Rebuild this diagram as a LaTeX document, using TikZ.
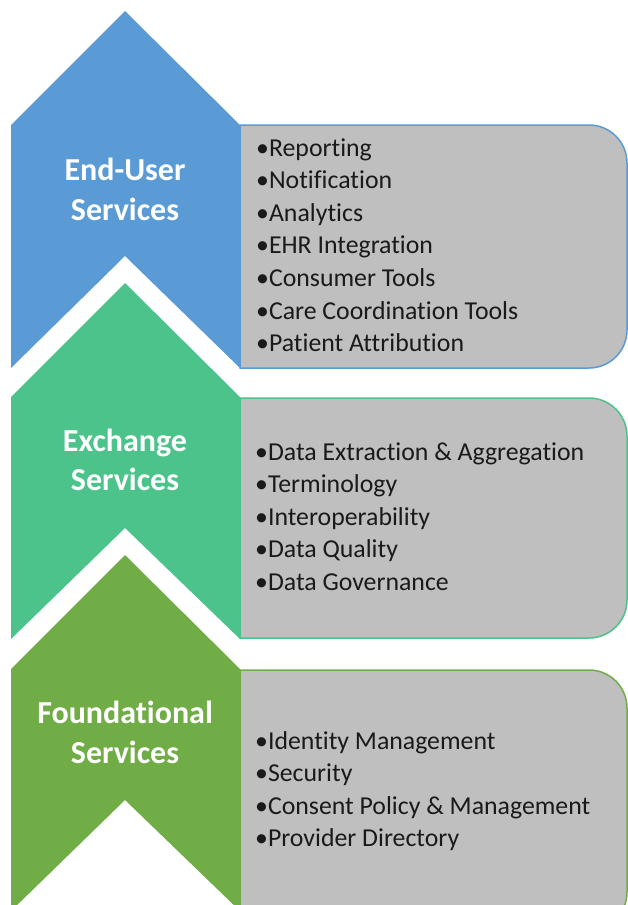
\documentclass[tikz,border=0pt]{standalone}
\usepackage{fontspec}
\setmainfont{Carlito}[Ligatures=NoCommon]
\definecolor{cblue}{HTML}{5B9BD5}
\definecolor{cteal}{HTML}{4CC38A}
\definecolor{cgreen}{HTML}{70AD47}
\definecolor{cgray}{HTML}{BFBFBF}
\definecolor{ctext}{HTML}{1A1A1A}
\tikzset{
  listitem/.style={anchor=base west, inner sep=0pt, text=ctext, font=\fontsize{25.8}{30}\selectfont},
  title/.style={anchor=base, inner sep=0pt, text=white, font=\fontsize{32}{38}\selectfont\bfseries},
  panel/.style={fill=cgray, line width=1.5pt}
}
\begin{document}
\begin{tikzpicture}[x=1pt,y=-1pt]
\useasboundingbox (0,0) rectangle (628,905);
\begin{scope}
\clip (0,0) rectangle (628,905);
% panels
\path[panel, draw=cblue] (240,125) -- (400,125) [rounded corners=38] -- (627,125) -- (627,368) -- (400,368) [sharp corners] -- (240,368) -- cycle;
\path[panel, draw=cteal] (240,398) -- (400,398) [rounded corners=38] -- (627,398) -- (627,638) -- (400,638) [sharp corners] -- (240,638) -- cycle;
\path[panel, draw=cgreen] (240,670) -- (400,670) [rounded corners=38] -- (627,670) -- (627,930) -- (400,930) [sharp corners] -- (240,930) -- cycle;
% chevrons
\fill[cblue] (11,125) -- (125,11) -- (240,125) -- (240,368) -- (125,256) -- (11,368) -- cycle;
\fill[cteal] (11,397) -- (125,283) -- (240,397) -- (240,639) -- (125,528) -- (11,639) -- cycle;
\fill[cgreen] (11,669) -- (125,555) -- (240,669) -- (240,911) -- (125,800) -- (11,911) -- cycle;
\end{scope}
% titles
\node[title] (t1a) at (125,180) {End-User};
\node[title] (t1b) at (125,220) {Services};
\node[title] (t2a) at (125,451) {Exchange};
\node[title] (t2b) at (125,490) {Services};
\node[title] (t3a) at (125,723) {Foundational};
\node[title] (t3b) at (125,763) {Services};
% lists
\node[listitem] (a1) at (256,156) {•Reporting};
\node[listitem] (a2) at (256,188.6) {•Notification};
\node[listitem] (a3) at (256,221.2) {•Analytics};
\node[listitem] (a4) at (256,253.8) {•EHR Integration};
\node[listitem] (a5) at (256,286.4) {•Consumer Tools};
\node[listitem] (a6) at (256,319) {•Care Coordination Tools};
\node[listitem] (a7) at (256,351.6) {•Patient Attribution};
\node[listitem] (b1) at (255,460) {•Data Extraction \& Aggregation};
\node[listitem] (b2) at (255,492.5) {•Terminology};
\node[listitem] (b3) at (255,525) {•Interoperability};
\node[listitem] (b4) at (255,557.5) {•Data Quality};
\node[listitem] (b5) at (255,590) {•Data Governance};
\node[listitem] (c1) at (255,749) {•Identity Management};
\node[listitem] (c2) at (255,781.5) {•Security};
\node[listitem] (c3) at (255,814) {•Consent Policy \& Management};
\node[listitem] (c4) at (255,846.5) {•Provider Directory};
\end{tikzpicture}
\end{document}
